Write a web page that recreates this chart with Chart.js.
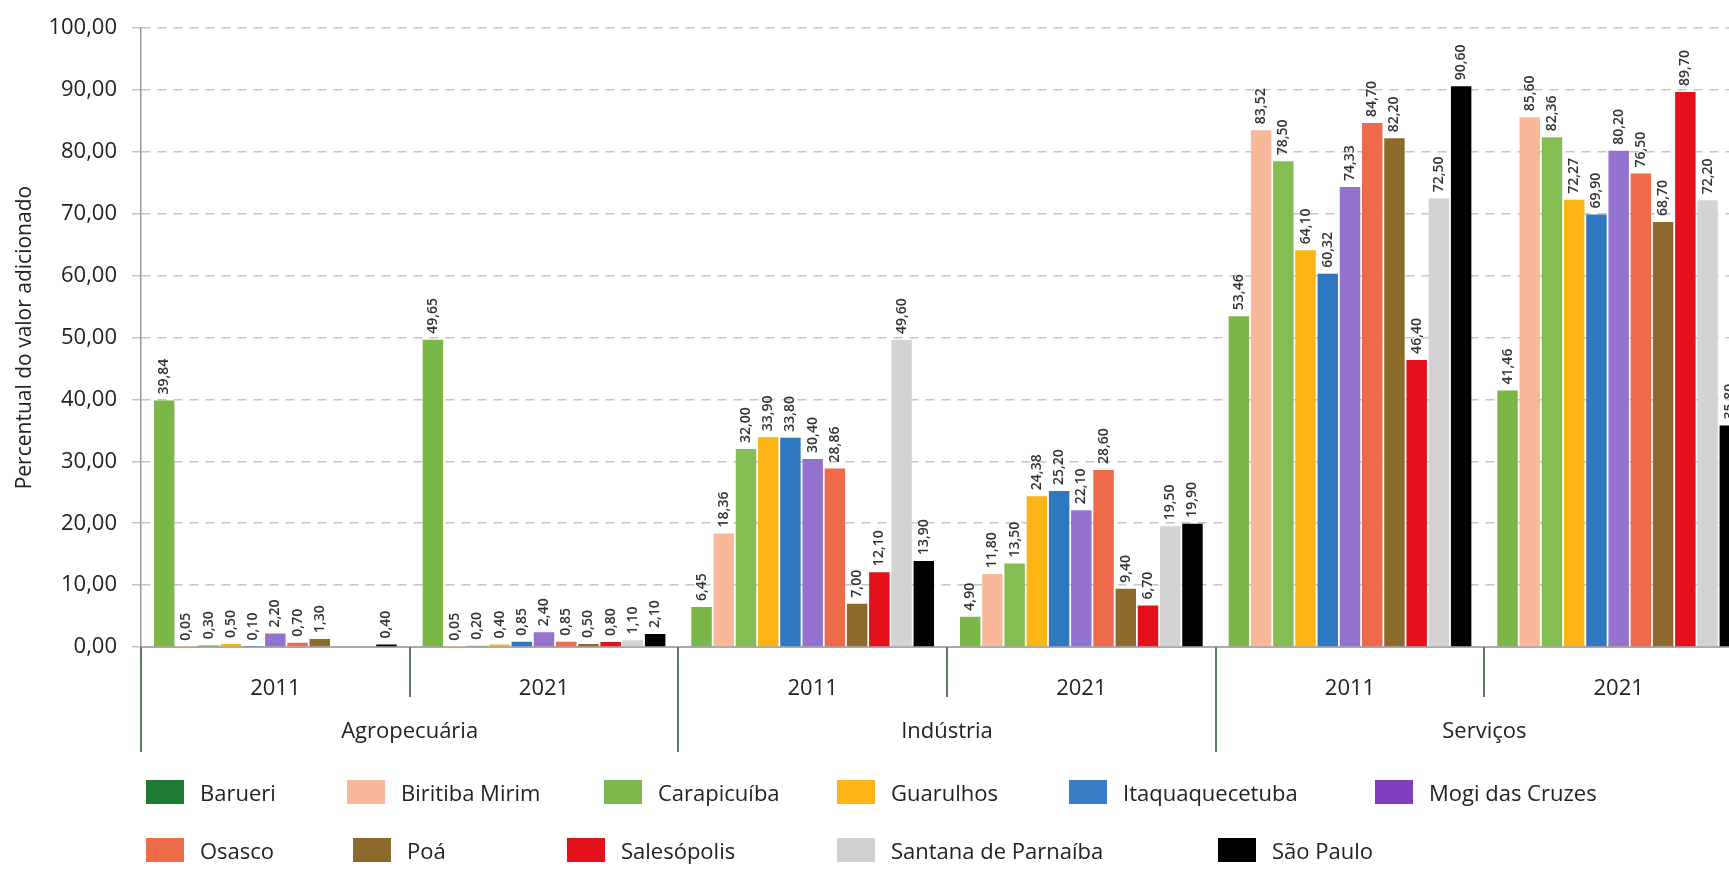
<!DOCTYPE html>
<html>
<head>
<meta charset="utf-8">
<script src="https://cdn.jsdelivr.net/npm/chart.js@4"></script>
<style>
  body { margin: 0; background: #fff; overflow: hidden; font-family: "Open Sans", sans-serif; }
  #wrap { position: relative; width: 1760px; height: 869px; }
  .leg { position: absolute; display: flex; align-items: center; font-size: 22px; color: #222; white-space: nowrap; }
  .leg i { display: inline-block; width: 38px; height: 24px; margin-right: 16px; }
</style>
</head>
<body>
<div id="wrap">
  <canvas id="myChart" width="1760" height="869"></canvas>
  <div id="legend"></div>
</div>
<script>
// data
const years = ['2011', '2021', '2011', '2021', '2011', '2021'];
const sectors = ['Agropecuária', 'Indústria', 'Serviços'];
const cities = ['Barueri', 'Biritiba Mirim', 'Carapicuíba', 'Guarulhos', 'Itaquaquecetuba',
  'Mogi das Cruzes', 'Osasco', 'Poá', 'Salesópolis', 'Santana de Parnaíba', 'São Paulo'];

// Agro 2011, Agro 2021, Ind 2011, Ind 2021, Serv 2011, Serv 2021
const barueri = [39.84, 49.65, 6.45, 4.90, 53.46, 41.46];
const biritibaMirim = [0.05, 0.05, 18.36, 11.80, 83.52, 85.60];
const carapicuiba = [0.30, 0.20, 32.00, 13.50, 78.50, 82.36];
const guarulhos = [0.50, 0.40, 33.90, 24.38, 64.10, 72.27];
const itaquaquecetuba = [0.10, 0.85, 33.80, 25.20, 60.32, 69.90];
const mogiDasCruzes = [2.20, 2.40, 30.40, 22.10, 74.33, 80.20];
const osasco = [0.70, 0.85, 28.86, 28.60, 84.70, 76.50];
const poa = [1.30, 0.50, 7.00, 9.40, 82.20, 68.70];
const salesopolis = [null, 0.80, 12.10, 6.70, 46.40, 89.70];
const santanaDeParnaiba = [null, 1.10, 49.60, 19.50, 72.50, 72.20];
const saoPaulo = [0.40, 2.10, 13.90, 19.90, 90.60, 35.80];

const series = [barueri, biritibaMirim, carapicuiba, guarulhos, itaquaquecetuba,
  mogiDasCruzes, osasco, poa, salesopolis, santanaDeParnaiba, saoPaulo];

// styles
const barColors = ['#7ab648', '#f9b89a', '#84bd52', '#fdb515', '#2f78c0', '#9473cf',
  '#ee6a4a', '#8c6a2c', '#e4101c', '#d3d3d3', '#000000'];
const legendColors = ['#1e7b34', '#f9b89a', '#7cb84c', '#fdb515', '#3a7cc6', '#7f3fbf',
  '#ef6c4a', '#8c6a2c', '#e4101c', '#d0d0d0', '#000000'];
const legendRows = [[0, 1, 2, 3, 4, 5], [6, 7, 8, 9, 10]];
const legendX = [[146, 347, 604, 837, 1069, 1375], [146, 353, 567, 837, 1218]];
const legendY = [792, 850];

const fmt = v => v.toFixed(2).replace('.', ',');
const FONT = '"Open Sans", sans-serif';

// value labels, rotated above each bar
const valueLabels = {
  id: 'valueLabels',
  afterDatasetsDraw(chart) {
    const ctx = chart.ctx;
    ctx.save();
    ctx.font = '600 14px ' + FONT;
    ctx.fillStyle = '#333';
    ctx.textAlign = 'left';
    ctx.textBaseline = 'middle';
    chart.data.datasets.forEach((ds, d) => {
      chart.getDatasetMeta(d).data.forEach((bar, i) => {
        const v = ds.data[i];
        if (v === null) return;
        ctx.save();
        ctx.translate(bar.x, bar.y - 6);
        ctx.rotate(-Math.PI / 2);
        ctx.fillText(fmt(v), 0, 0);
        ctx.restore();
      });
    });
    ctx.restore();
  }
};

// year / sector separators and sector names under the axis
const groupAxis = {
  id: 'groupAxis',
  afterDraw(chart) {
    const ctx = chart.ctx;
    const x = chart.scales.x;
    const base = chart.chartArea.bottom;
    ctx.save();
    ctx.strokeStyle = '#5d7d60';
    ctx.lineWidth = 2;
    for (let i = 0; i <= years.length; i++) {
      const px = Math.round(x.getPixelForValue(i - 0.5));
      ctx.beginPath();
      ctx.moveTo(px, base);
      ctx.lineTo(px, base + (i % 2 === 0 ? 105 : 50));
      ctx.stroke();
    }
    ctx.font = '22px ' + FONT;
    ctx.fillStyle = '#222';
    ctx.textAlign = 'center';
    ctx.textBaseline = 'middle';
    sectors.forEach((s, k) => {
      const cx = (x.getPixelForValue(2 * k) + x.getPixelForValue(2 * k + 1)) / 2;
      ctx.fillText(s, cx, base + 85);
    });
    ctx.restore();
  }
};

// setup
const data = {
  labels: years,
  datasets: cities.map((name, k) => ({
    label: name,
    data: series[k],
    backgroundColor: barColors[k],
    borderWidth: 0,
    barPercentage: 0.92,
    categoryPercentage: 0.91
  }))
};

// config
const config = {
  type: 'bar',
  data,
  options: {
    responsive: false,
    animation: false,
    layout: { padding: { left: 0, right: 7, top: 0, bottom: 0 } },
    plugins: {
      legend: { display: false },
      tooltip: { enabled: false }
    },
    scales: {
      x: {
        offset: true,
        grid: { display: false },
        border: { color: '#aaaaaa', width: 2 },
        ticks: { color: '#222', font: { family: FONT, size: 22 }, padding: 21 },
        afterFit(scale) { scale.height = 222; }
      },
      y: {
        min: 0,
        max: 100,
        ticks: {
          stepSize: 10,
          color: '#222',
          font: { family: FONT, size: 22 },
          padding: 15,
          callback: v => fmt(v)
        },
        grid: { color: '#c4c4c4', lineWidth: 1.5, tickLength: 9, tickColor: '#c4c4c4' },
        border: { color: '#999999', width: 1.5, dash: [9, 7] },
        title: {
          display: true,
          text: 'Percentual do valor adicionado',
          color: '#222',
          font: { family: FONT, size: 21 },
          padding: { top: 12, bottom: 0 }
        },
        afterFit(scale) { scale.width = 141; }
      }
    }
  },
  plugins: [valueLabels, groupAxis]
};

// render init block
const myChart = new Chart(document.getElementById('myChart'), config);

// legend
const legend = document.getElementById('legend');
legendRows.forEach((row, r) => {
  row.forEach((k, j) => {
    const el = document.createElement('div');
    el.className = 'leg';
    el.style.left = legendX[r][j] + 'px';
    el.style.top = (legendY[r] - 16) + 'px';
    el.style.height = '32px';
    el.innerHTML = '<i style="background:' + legendColors[k] + '"></i>' + cities[k];
    legend.appendChild(el);
  });
});
</script>
</body>
</html>
